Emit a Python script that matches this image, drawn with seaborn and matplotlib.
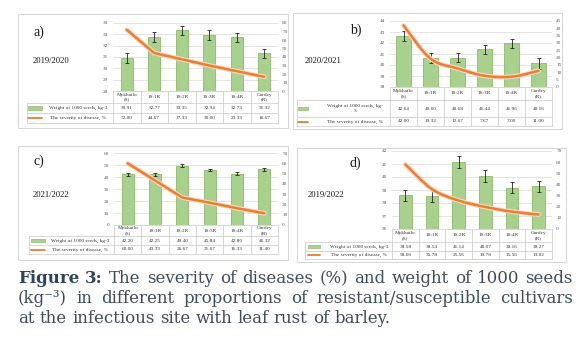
import numpy as np
import pandas as pd
import matplotlib
matplotlib.use("Agg")
import matplotlib.pyplot as plt
import seaborn as sns
from matplotlib.path import Path
from matplotlib.patches import PathPatch, Rectangle
from matplotlib.lines import Line2D
import matplotlib.patheffects as pe

# ---------------- data ----------------
categories = ["Mykhailo\n(S)", "1S:1R", "1S:2R", "1S:3R", "1S:4R", "Gardey\n(R)"]
series_bar = "Weight of 1000 seeds, kg-3"
series_line = "The severity of disease, %"

weight_a = [30.91, 32.77, 33.35, 32.94, 32.73, 31.32]
severity_a = [72.00, 44.67, 37.33, 30.00, 23.33, 16.67]
err_a = [0.40, 0.42, 0.42, 0.40, 0.40, 0.40]

weight_b = [42.64, 40.60, 40.68, 41.44, 41.96, 40.16]
severity_b = [42.00, 19.33, 12.67, 7.67, 7.00, 11.00]
err_b = [0.42, 0.45, 0.45, 0.42, 0.42, 0.48]

weight_c = [42.20, 42.25, 49.40, 45.84, 42.80, 46.32]
severity_c = [60.00, 43.33, 26.67, 21.67, 16.33, 11.40]
err_c = [1.3, 1.3, 1.3, 1.2, 1.3, 1.3]

weight_d = [38.58, 38.54, 41.14, 40.07, 39.16, 39.27]
severity_d = [58.00, 35.78, 25.56, 19.78, 15.56, 13.02]
err_d = [0.42, 0.45, 0.45, 0.45, 0.42, 0.42]

caption_bold = "Figure 3:"
caption_lines = [
    "The severity of diseases (%) and weight of 1000 seeds",
    "(kg\u207b\u00b3) in different proportions of resistant/susceptible cultivars",
    "at the infectious site with leaf rust of barley.",
]

# ---------------- style ----------------
sns.set_style("white")
plt.rcParams["font.family"] = ["Liberation Serif", "DejaVu Serif"]

GREEN = "#a9d18e"
GREEN_EDGE = "#7fb25a"
ORANGE = "#ed7d31"
GLOW = "#f9d9c2"
GRID = "#d9d9d9"
TABLE = "#c8c8c8"
TICK = "#595959"
CAP = "#3e4c63"

W, H = 588, 343
fig = plt.figure(figsize=(W / 100, H / 100), dpi=100)
fig.patch.set_facecolor("white")

overlay = fig.add_axes([0, 0, 1, 1], zorder=0)
overlay.set_xlim(0, W)
overlay.set_ylim(H, 0)
overlay.axis("off")


def px_rect(x0, y0, x1, y1):
    return [x0 / W, 1 - y1 / H, (x1 - x0) / W, (y1 - y0) / H]


def smooth_path(xs, ys):
    pts = np.column_stack([xs, ys]).astype(float)
    n = len(pts)
    verts = [pts[0]]
    codes = [Path.MOVETO]
    for i in range(n - 1):
        p0 = pts[i - 1] if i > 0 else pts[i]
        p1 = pts[i]
        p2 = pts[i + 1]
        p3 = pts[i + 2] if i + 2 < n else pts[i + 1]
        verts += [p1 + (p2 - p0) / 6, p2 - (p3 - p1) / 6, p2]
        codes += [Path.CURVE4] * 3
    return Path(verts, codes)


def panel(weights, severity, errs, spec):
    x0, y0, x1, y1 = spec["plot"]
    ax = fig.add_axes(px_rect(x0, y0, x1, y1), zorder=2)
    ax.set_facecolor("none")
    df = pd.DataFrame({"cat": categories, "w": weights})
    sns.barplot(data=df, x="cat", y="w", ax=ax, color=GREEN, saturation=1,
                edgecolor=GREEN_EDGE, linewidth=0.5, width=spec["bw"], zorder=2)
    ax.errorbar(np.arange(len(categories)), weights, yerr=errs, fmt="none",
                ecolor="#222222", elinewidth=0.6, capsize=1.4, capthick=0.6, zorder=3)
    lo, hi, st = spec["left"]
    ax.set_ylim(lo, hi)
    ax.set_yticks(np.arange(lo, hi + 0.001, st))
    ax.set_xlim(-0.5, len(categories) - 0.5)
    ax.set_xticks([])
    ax.set_xlabel("")
    ax.set_ylabel("")
    ax.grid(axis="y", color=GRID, lw=0.5)
    ax.set_axisbelow(True)
    for s in ax.spines.values():
        s.set_visible(False)
    ax.tick_params(axis="y", length=0, labelsize=3.8, labelcolor=TICK, pad=3.5)

    ax2 = ax.twinx()
    rhi, rst = spec["right"]
    ax2.set_ylim(0, rhi)
    ax2.set_yticks(np.arange(0, rhi + 0.001, rst))
    for s in ax2.spines.values():
        s.set_visible(False)
    ax2.tick_params(axis="y", length=0, labelsize=3.8, labelcolor=TICK, pad=3)
    effects = [pe.Stroke(linewidth=3.4, foreground=GLOW), pe.Normal()]
    xs = np.arange(len(categories))
    if spec["smooth"]:
        ax2.add_patch(PathPatch(smooth_path(xs, severity), facecolor="none",
                                edgecolor=ORANGE, lw=1.8, path_effects=effects,
                                capstyle="round", joinstyle="round"))
    else:
        sns.lineplot(x=xs, y=severity, ax=ax2, color=ORANGE, lw=1.8,
                     path_effects=effects, solid_joinstyle="round")
    ax2.set_ylabel("")
    ax2.set_xlim(-0.5, len(categories) - 0.5)

    # outer box
    bx0, by0, bx1, by1 = spec["box"]
    overlay.add_patch(Rectangle((bx0, by0), bx1 - bx0, by1 - by0, fill=False,
                                edgecolor="#d6d6d6", lw=0.7))
    # letter and season
    overlay.text(spec["letter"][0], spec["letter"][1], spec["name"], fontsize=10,
                 color="#1a1a1a", ha="left", va="center")
    overlay.text(spec["season"][0], spec["season"][1], spec["year"], fontsize=6.2,
                 color="#1a1a1a", ha="left", va="center")

    # data table
    r0, r1, r2, r3 = spec["rows"]
    lx0 = spec["labx"]
    n = len(categories)
    colw = (x1 - x0) / n
    for k in range(n + 1):
        xx = x0 + k * colw
        overlay.add_line(Line2D([xx, xx], [r0, r3], color=TABLE, lw=0.5))
    overlay.add_line(Line2D([x0, x1], [r0, r0], color=TABLE, lw=0.5))
    for yy in (r1, r2, r3):
        overlay.add_line(Line2D([lx0, x1], [yy, yy], color=TABLE, lw=0.5))
    overlay.add_line(Line2D([lx0, lx0], [r1, r3], color=TABLE, lw=0.5))
    for i, c in enumerate(categories):
        cx = x0 + (i + 0.5) * colw
        overlay.text(cx, (r0 + r1) / 2, c, fontsize=3.8, ha="center", va="center",
                     color="#333333", linespacing=1.1)
        overlay.text(cx, (r1 + r2) / 2, f"{weights[i]:.2f}", fontsize=3.8,
                     ha="center", va="center", color="#333333")
        overlay.text(cx, (r2 + r3) / 2, f"{severity[i]:.2f}", fontsize=3.8,
                     ha="center", va="center", color="#333333")
    sx0, sx1 = spec["swatch"]
    ym1 = (r1 + r2) / 2
    ym2 = (r2 + r3) / 2
    overlay.add_patch(Rectangle((sx0, ym1 - 1.6), sx1 - sx0, 3.2, facecolor=GREEN,
                                edgecolor=GREEN_EDGE, lw=0.4))
    overlay.add_line(Line2D([sx0, sx1], [ym2, ym2], color=ORANGE, lw=1.3))
    overlay.text(spec["labc"], ym1, spec["barlabel"], fontsize=3.8, ha="center",
                 va="center", color="#333333", linespacing=1.1)
    overlay.text(spec["labc"], ym2, series_line, fontsize=3.8, ha="center",
                 va="center", color="#333333")


spec_a = dict(plot=(113, 23, 278, 91), bw=0.42, left=(28, 34, 1), right=(80, 10),
              smooth=False, box=(18, 14, 288, 128), name="a)", letter=(33, 32),
              year="2019/2020", season=(33, 61), rows=(91, 103, 113, 123), labx=27,
              swatch=(28, 42), labc=78, barlabel=series_bar)
spec_b = dict(plot=(390, 21, 552, 87), bw=0.55, left=(38, 44, 1), right=(45, 5),
              smooth=True, box=(293, 13, 562, 129), name="b)", letter=(350, 30),
              year="2020/2021", season=(305, 61), rows=(87, 100, 117, 126), labx=297,
              swatch=(298, 308), labc=355, barlabel="Weight of 1000 seeds, kg-\n3")
spec_c = dict(plot=(114, 153, 278, 225), bw=0.44, left=(0, 60, 10), right=(70, 10),
              smooth=False, box=(18, 146, 288, 260), name="c)", letter=(33, 161),
              year="2021/2022", season=(33, 195), rows=(225, 236, 245, 254), labx=29,
              swatch=(31, 45), labc=80, barlabel=series_bar)
spec_d = dict(plot=(392, 151, 552, 229), bw=0.47, left=(36, 42, 1), right=(70, 10),
              smooth=True, box=(297, 148, 566, 262), name="d)", letter=(350, 163),
              year="2019/2022", season=(308, 195), rows=(229, 242, 251, 259), labx=305,
              swatch=(308, 320), labc=359, barlabel=series_bar)

panel(weight_a, severity_a, err_a, spec_a)
panel(weight_b, severity_b, err_b, spec_b)
panel(weight_c, severity_c, err_c, spec_c)
panel(weight_d, severity_d, err_d, spec_d)

# ---------------- caption (justified) ----------------
CAP_FS = 12.0
CAP_FAMILY = "DejaVu Serif"
renderer = fig.canvas.get_renderer()


def measure(t):
    return t.get_window_extent(renderer).width


def place_line(pieces, y, x0, x1, justify):
    texts = []
    for word, bold in pieces:
        t = overlay.text(0, y, word, fontsize=CAP_FS, family=CAP_FAMILY,
                         fontweight="bold" if bold else "normal",
                         color="#2f4360" if bold else CAP, ha="left", va="baseline")
        texts.append(t)
    widths = [measure(t) for t in texts]
    probe = overlay.text(0, 0, "a a", fontsize=CAP_FS, family=CAP_FAMILY)
    probe2 = overlay.text(0, 0, "aa", fontsize=CAP_FS, family=CAP_FAMILY)
    natural = measure(probe) - measure(probe2)
    probe.remove()
    probe2.remove()
    if justify:
        gap = (x1 - x0 - sum(widths)) / (len(texts) - 1)
    else:
        gap = natural
    x = x0
    for t, w in zip(texts, widths):
        t.set_x(x)
        x += w + gap


line1 = [(w, True) for w in caption_bold.split()] + [(w, False) for w in caption_lines[0].split()]
place_line(line1, 283, 18, 573, True)
place_line([(w, False) for w in caption_lines[1].split()], 303, 18, 573, True)
place_line([(w, False) for w in caption_lines[2].split()], 323, 18, 573, False)

fig.savefig("out.png", dpi=100, facecolor="white")
